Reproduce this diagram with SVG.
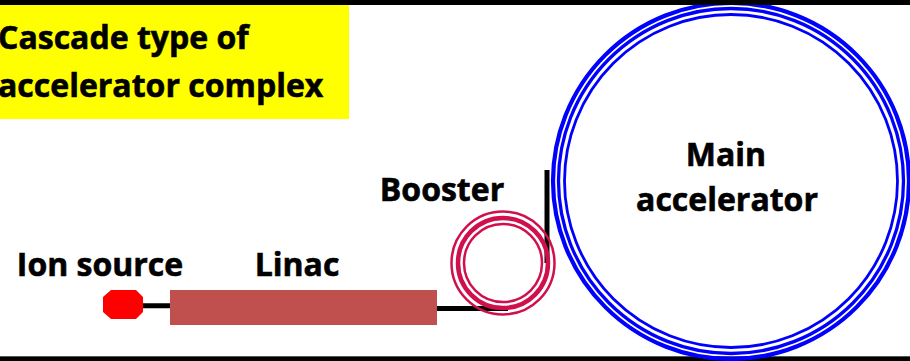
<svg xmlns="http://www.w3.org/2000/svg" width="910" height="361" viewBox="0 0 910 361">
  <style>
    .lbl { font-family: "Open Sans", "Liberation Sans", sans-serif; font-weight: bold; font-size: 32px; fill: #000; stroke: #000; stroke-width: 0.6px; }
    .title { font-family: "Open Sans", "Liberation Sans", sans-serif; font-weight: bold; font-size: 32px; fill: #000; stroke: #000; stroke-width: 0.6px; }
    .beam { stroke: #000; stroke-width: 5; fill: none; }
    .bst { fill: none; stroke: #D0104C; }
    .main { fill: none; stroke: #0000FF; }
  </style>
  <rect x="0" y="0" width="910" height="361" fill="#FFFFFF"/>
  <rect x="0" y="356" width="910" height="5" fill="#000"/>
  <line x1="0" y1="356.5" x2="910" y2="356.5" stroke="#555" stroke-width="1"/>

  <g id="title">
    <rect x="0" y="5" width="349" height="114" fill="#FFFF00"/>
    <text class="title" x="-2" y="49">Cascade type of</text>
    <text class="title" x="-2" y="97">accelerator complex</text>
  </g>

  <g id="main-accelerator">
    <circle class="main" cx="731" cy="181" r="178" stroke-width="4.2"/>
    <circle class="main" cx="731" cy="181" r="172.5" stroke-width="3.3"/>
    <circle class="main" cx="731" cy="181" r="166.5" stroke-width="2.8"/>
    <text class="lbl" x="726" y="166" text-anchor="middle">Main</text>
    <text class="lbl" x="727" y="211" text-anchor="middle">accelerator</text>
  </g>

  <rect x="0" y="0" width="910" height="5" fill="#000"/>

  <g id="connectors">
    <line class="beam" x1="138" y1="305.8" x2="173" y2="305.8"/>
    <line class="beam" x1="434" y1="308.5" x2="508" y2="308.5"/>
    <line class="beam" x1="547" y1="170" x2="547" y2="263"/>
  </g>

  <g id="ion-source">
    <polygon points="111,290 136,290 143,297 143,312 136,319 111,319 103,312 103,297" fill="#FF0000"/>
    <text class="lbl" x="100" y="276" text-anchor="middle">Ion source</text>
  </g>

  <g id="linac">
    <rect x="170" y="290" width="267" height="35" fill="#C0504D"/>
    <text class="lbl" x="297" y="276" text-anchor="middle">Linac</text>
  </g>

  <g id="booster">
    <circle class="bst" cx="503" cy="263" r="51.5" stroke-width="2.5"/>
    <circle class="bst" cx="503" cy="263" r="45" stroke-width="4.5"/>
    <circle class="bst" cx="503" cy="263" r="39" stroke-width="2.5"/>
    <text class="lbl" x="442" y="201" text-anchor="middle">Booster</text>
  </g>
</svg>
